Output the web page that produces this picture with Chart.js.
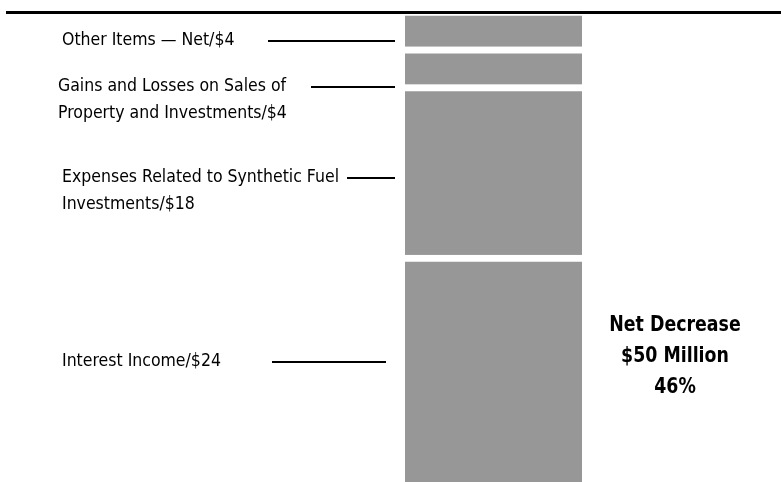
<!DOCTYPE html>
<html>
<head>
<meta charset="utf-8">
<script src="https://cdn.jsdelivr.net/npm/chart.js@4.4.1/dist/chart.umd.min.js"></script>
<style>
  body { margin: 0; background: #fff; }
  canvas { display: block; }
</style>
</head>
<body>
<canvas id="myChart" width="781" height="482"></canvas>
<script>
// values in $ millions, bottom segment first
const categories = ['Net Decrease']
const segmentNames = [
    'Interest Income',
    'Expenses Related to Synthetic Fuel Investments',
    'Gains and Losses on Sales of Property and Investments',
    'Other Items — Net'
]
const segmentValues = [24, 18, 4, 4]
const totalLabel = ['Net Decrease', '$50 Million', '46%']

// label text lines and where they sit (left side annotations)
const labelLines = [
    ['Interest Income/$24'],
    ['Expenses Related to Synthetic Fuel', 'Investments/$18'],
    ['Gains and Losses on Sales of', 'Property and Investments/$4'],
    ['Other Items — Net/$4']
]
const labelLayout = [
    { x: 62, y: 361, lineX1: 272, lineX2: 386 },
    { x: 62, y: 177, lineX1: 340, lineX2: 395 },
    { x: 58, y: 86, lineX1: 311, lineX2: 395 },
    { x: 62, y: 40, lineX1: 268, lineX2: 395 }
]

const FONT = '"Liberation Sans Narrow", "DejaVu Sans Condensed", sans-serif'

const annotations = {
    id: 'annotations',
    afterDraw(chart) {
        const c = chart.ctx
        c.save()
        // rule across the top
        c.strokeStyle = '#000'
        c.lineWidth = 3
        c.beginPath()
        c.moveTo(6, 12.5)
        c.lineTo(781, 12.5)
        c.stroke()

        c.fillStyle = '#000'
        c.textBaseline = 'middle'
        c.textAlign = 'left'
        c.font = '17.5px ' + FONT
        c.lineWidth = 2
        labelLines.forEach((lines, i) => {
            const l = labelLayout[i]
            lines.forEach((t, k) => c.fillText(t, l.x, l.y + k * 27))
            // keep the leader clear of the first text line
            const textEnd = l.x + c.measureText(lines[0]).width
            const x1 = Math.max(l.lineX1, textEnd + 8)
            c.beginPath()
            c.moveTo(x1, l.y + 1)
            c.lineTo(l.lineX2, l.y + 1)
            c.stroke()
        })

        // total, bold and a bit condensed
        c.textAlign = 'center'
        c.font = 'bold 21px ' + FONT
        c.translate(675, 0)
        c.scale(0.92, 1)
        totalLabel.forEach((t, k) => c.fillText(t, 0, 326 + k * 31))
        c.restore()
    }
}

const datasets = segmentValues.map((v, i) => ({
    label: segmentNames[i],
    data: [v],
    backgroundColor: '#979797',
    borderColor: '#fff',
    borderWidth: { top: 7, bottom: 0, left: 0, right: 0 },
    borderSkipped: false,
    barPercentage: 1,
    categoryPercentage: 1
}))

const ctx = document.getElementById('myChart')
const myChart = new Chart(ctx, {
    type: 'bar',
    data: {
        labels: categories,
        datasets: datasets
    },
    options: {
        responsive: false,
        animation: false,
        devicePixelRatio: 1,
        layout: {
            padding: { left: 405, right: 199, top: 9, bottom: 0 }
        },
        plugins: {
            legend: { display: false },
            tooltip: { enabled: false }
        },
        scales: {
            x: { stacked: true, display: false },
            y: { stacked: true, display: false, min: 0, max: 50 }
        }
    },
    plugins: [annotations]
})
</script>
</body>
</html>
